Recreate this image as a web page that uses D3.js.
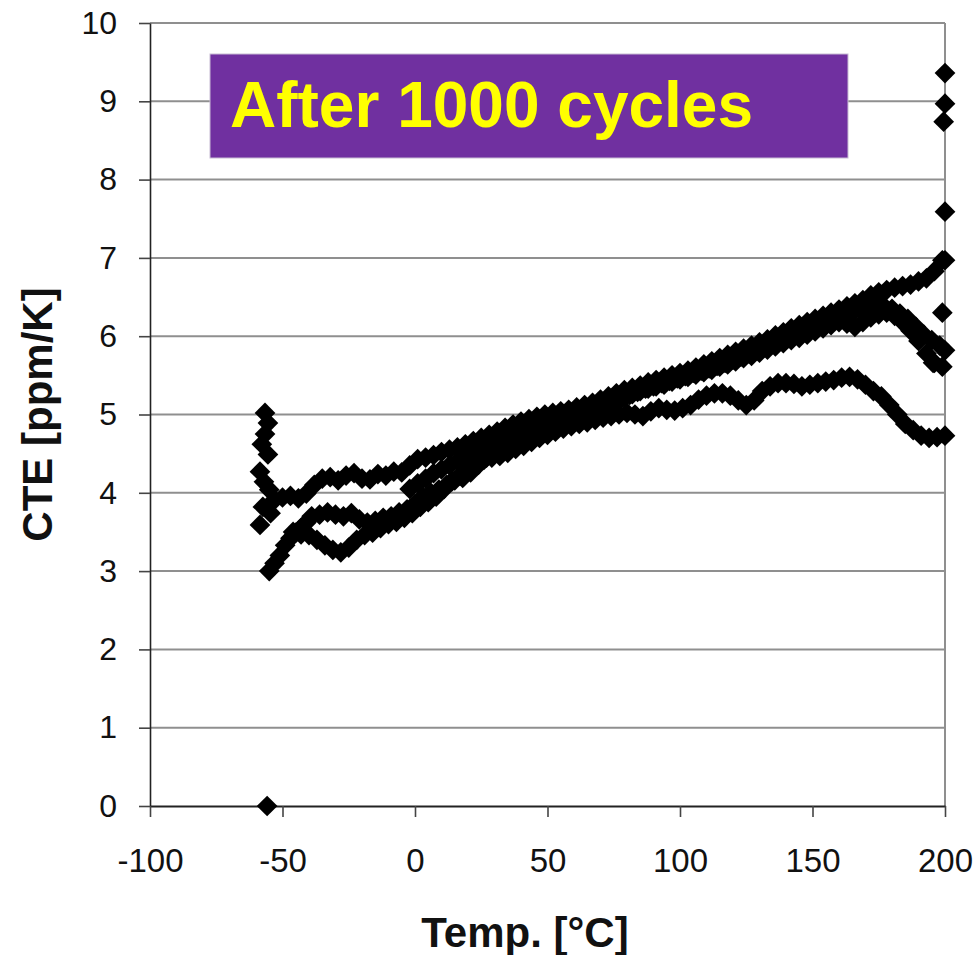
<!DOCTYPE html>
<html>
<head>
<meta charset="utf-8">
<script src="https://cdn.jsdelivr.net/npm/d3@7"></script>
<style>
  body { margin: 0; background: #fff; }
  svg { display: block; }
  text { font-family: "Liberation Sans", Arial, sans-serif; }
</style>
</head>
<body>
<svg id="chart" width="976" height="955"></svg>
<script>
// Axis ticks
const tempTicks = [-100, -50, 0, 50, 100, 150, 200];
const cteTicks = [0, 1, 2, 3, 4, 5, 6, 7, 8, 9, 10];

// Measured CTE curves: [temperature °C, CTE ppm/K]
const runUpper = [[-53,3.91],[-50,3.94],[-47,3.96],[-44,3.93],[-41,3.99],[-38,4.10],[-35,4.18],[-32,4.20],[-29,4.16],[-26,4.22],[-23,4.25],[-20,4.18],[-17,4.17],[-14,4.24],[-11,4.22],[-8,4.27],[-5,4.26],[-2,4.35],[1,4.43],[4,4.45],[7,4.48],[10,4.52],[13,4.55],[16,4.58],[19,4.62],[22,4.66],[25,4.70],[28,4.74],[31,4.78],[34,4.83],[37,4.87],[40,4.91],[43,4.94],[46,4.97],[49,5.00],[52,5.02],[55,5.04],[58,5.06],[61,5.09],[64,5.12],[67,5.15],[70,5.19],[73,5.23],[76,5.27],[79,5.31],[82,5.34],[85,5.37],[88,5.41],[91,5.44],[94,5.47],[97,5.50],[100,5.53],[103,5.56],[106,5.60],[109,5.64],[112,5.68],[115,5.72],[118,5.76],[121,5.80],[124,5.84],[127,5.88],[130,5.92],[133,5.96],[136,6.01],[139,6.05],[142,6.10],[145,6.14],[148,6.18],[151,6.22],[154,6.26],[157,6.30],[160,6.34],[163,6.38],[166,6.42],[169,6.46],[172,6.52],[175,6.56],[178,6.59],[181,6.62],[184,6.64],[187,6.66],[190,6.70],[193,6.74],[196,6.83],[199,6.97]];

const runMiddle = [[-55,3.00],[-53,3.10],[-51,3.20],[-49,3.33],[-47,3.42],[-45,3.49],[-43,3.55],[-41,3.62],[-39,3.70],[-36,3.72],[-33,3.75],[-30,3.72],[-27,3.70],[-24,3.74],[-21,3.66],[-18,3.62],[-15,3.64],[-12,3.68],[-9,3.70],[-6,3.75],[-3,3.79],[0,3.86],[3,3.95],[6,4.00],[9,4.04],[12,4.10],[15,4.16],[18,4.19],[21,4.26],[24,4.36],[27,4.45],[30,4.52],[33,4.58],[36,4.64],[39,4.70],[42,4.76],[45,4.81],[48,4.86],[51,4.90],[54,4.93],[57,4.96],[60,4.99],[63,5.02],[66,5.05],[69,5.09],[72,5.13],[75,5.17],[78,5.21],[81,5.25],[84,5.29],[87,5.33],[90,5.36],[93,5.40],[96,5.43],[99,5.46],[102,5.49],[105,5.53],[108,5.56],[111,5.59],[114,5.62],[117,5.66],[120,5.70],[123,5.74],[126,5.78],[129,5.82],[132,5.86],[135,5.90],[138,5.94],[141,5.98],[144,6.02],[147,6.06],[150,6.10],[153,6.14],[156,6.18],[159,6.22],[162,6.26],[165,6.30],[168,6.34],[171,6.37],[174,6.39],[177,6.38],[180,6.35],[183,6.29],[186,6.22],[189,6.12],[192,6.02],[195,5.95],[198,5.88],[200,5.82]];

const runSecond = [[-2,4.05],[1,4.12],[4,4.18],[7,4.25],[10,4.30],[13,4.35],[16,4.40],[19,4.45],[22,4.52],[25,4.57],[28,4.62],[31,4.66],[34,4.70],[37,4.75],[40,4.80],[43,4.84],[46,4.88],[49,4.91],[52,4.94],[55,4.97],[58,5.00],[61,5.03],[64,5.05],[67,5.08],[70,5.11],[73,5.15],[76,5.18],[79,5.22],[82,5.26],[85,5.30],[88,5.33],[91,5.36],[94,5.38],[97,5.42],[100,5.45],[103,5.48],[106,5.51],[109,5.54],[112,5.57],[115,5.61],[118,5.64],[121,5.68],[124,5.72],[127,5.75],[130,5.79],[133,5.83],[136,5.87],[139,5.91],[142,5.95],[145,5.98],[148,6.02],[151,6.06],[154,6.10],[157,6.14],[160,6.18],[163,6.16],[166,6.12],[169,6.18],[172,6.24],[175,6.28],[178,6.30],[181,6.26],[184,6.18],[187,6.07],[190,5.94],[193,5.78],[196,5.66],[199,5.61]];

const runLower = [[-46,3.50],[-43,3.47],[-40,3.46],[-37,3.40],[-34,3.33],[-31,3.27],[-28,3.24],[-25,3.30],[-22,3.40],[-19,3.46],[-16,3.49],[-13,3.55],[-10,3.60],[-7,3.63],[-4,3.68],[-1,3.74],[2,3.82],[5,3.88],[8,3.95],[11,4.05],[14,4.15],[17,4.22],[20,4.30],[23,4.36],[26,4.42],[29,4.45],[32,4.47],[35,4.51],[38,4.56],[41,4.60],[44,4.65],[47,4.70],[50,4.74],[53,4.78],[56,4.82],[59,4.85],[62,4.88],[65,4.90],[68,4.93],[71,4.96],[74,4.98],[77,5.00],[80,5.02],[83,5.00],[86,4.98],[89,5.04],[92,5.08],[95,5.06],[98,5.05],[101,5.08],[104,5.12],[107,5.19],[110,5.24],[113,5.27],[116,5.27],[119,5.24],[122,5.18],[125,5.12],[128,5.18],[131,5.30],[134,5.36],[137,5.40],[140,5.40],[143,5.39],[146,5.36],[149,5.38],[152,5.40],[155,5.42],[158,5.44],[161,5.47],[164,5.48],[167,5.45],[170,5.38],[173,5.30],[176,5.23],[179,5.12],[182,5.00],[185,4.88],[188,4.80],[191,4.73],[194,4.70],[197,4.71],[200,4.73]];

// Readings at the temperature extremes of the cycle
const coldEnd = [[-56.6,5.02],[-55.5,4.89],[-56.6,4.75],[-57.8,4.62],[-55.5,4.49],[-58.5,4.27],[-57,4.14],[-55,4.04],[-57.4,3.82],[-54.5,3.74],[-58.5,3.59],[-55.8,0]];
const hotEnd = [[200,9.36],[200,8.97],[199.5,8.74],[200,7.59],[200,6.97],[199,6.30],[195.5,5.66]];

const titleText = "After 1000 cycles";
const xTitle = "Temp. [°C]";
const yTitle = "CTE [ppm/K]";

const svg = d3.select("#chart");
const plotLeft = 150, plotRight = 945, plotTop = 23, plotBottom = 806;

const x = d3.scaleLinear().domain([-100, 200]).range([plotLeft, plotRight]);
const y = d3.scaleLinear().domain([0, 10]).range([plotBottom, plotTop]);

// Horizontal gridlines
svg.append("g")
  .selectAll("line")
  .data(cteTicks.filter(d => d > 0))
  .join("line")
  .attr("x1", plotLeft).attr("x2", plotRight)
  .attr("y1", d => y(d)).attr("y2", d => y(d))
  .attr("stroke", "#8f8f8f").attr("stroke-width", 2);

// Plot-area right border
svg.append("line")
  .attr("x1", plotRight).attr("x2", plotRight)
  .attr("y1", y(10)).attr("y2", y(0))
  .attr("stroke", "#8f8f8f").attr("stroke-width", 2);

// Title banner
svg.append("rect")
  .attr("x", 210).attr("y", 54).attr("width", 638).attr("height", 104)
  .attr("fill", "#7030A0").attr("stroke", "#c8bcd4").attr("stroke-width", 1);
svg.append("text")
  .attr("x", 230).attr("y", 127)
  .attr("font-size", 64).attr("font-weight", "bold")
  .attr("fill", "#FFFF00")
  .text(titleText);

// Axes (plain hyphen-minus in the labels)
const plain = d => String(d);

const yAxis = d3.axisLeft(y).tickValues(cteTicks).tickFormat(plain)
  .tickSizeInner(11).tickSizeOuter(0).tickPadding(22);
const gy = svg.append("g").attr("transform", `translate(${plotLeft},0)`).call(yAxis);
gy.selectAll("text").attr("font-size", 32).attr("fill", "#111")
  .style("font-family", '"Liberation Sans", Arial, sans-serif');
gy.select(".domain").attr("stroke", "#222").attr("stroke-width", 1.6);
gy.selectAll(".tick line").attr("stroke", "#444").attr("stroke-width", 1.6);

const xAxis = d3.axisBottom(x).tickValues(tempTicks).tickFormat(plain)
  .tickSizeInner(11).tickSizeOuter(0).tickPadding(32);
const gx = svg.append("g").attr("transform", `translate(0,${plotBottom})`).call(xAxis);
gx.selectAll("text").attr("font-size", 33).attr("fill", "#111")
  .style("font-family", '"Liberation Sans", Arial, sans-serif');
gx.select(".domain").attr("stroke", "#222").attr("stroke-width", 2);
gx.selectAll(".tick line").attr("stroke", "#444").attr("stroke-width", 1.6);

// Axis titles
svg.append("text")
  .attr("x", 525).attr("y", 947)
  .attr("text-anchor", "middle")
  .attr("font-size", 42).attr("font-weight", "bold").attr("fill", "#111")
  .text(xTitle);
svg.append("text")
  .attr("transform", `translate(52,${(plotTop + plotBottom) / 2}) rotate(-90)`)
  .attr("text-anchor", "middle")
  .attr("font-size", 42).attr("font-weight", "bold").attr("fill", "#111")
  .text(yTitle);

// Diamond markers
const diamond = d3.symbol().type(d3.symbolSquare).size(215);
const allRuns = [runLower, runMiddle, runSecond, runUpper, coldEnd, hotEnd];
svg.append("g")
  .selectAll("g")
  .data(allRuns)
  .join("g")
  .selectAll("path")
  .data(d => d)
  .join("path")
  .attr("d", diamond)
  .attr("transform", d => `translate(${x(d[0])},${y(d[1])}) rotate(45)`)
  .attr("fill", "#000");
</script>
</body>
</html>
